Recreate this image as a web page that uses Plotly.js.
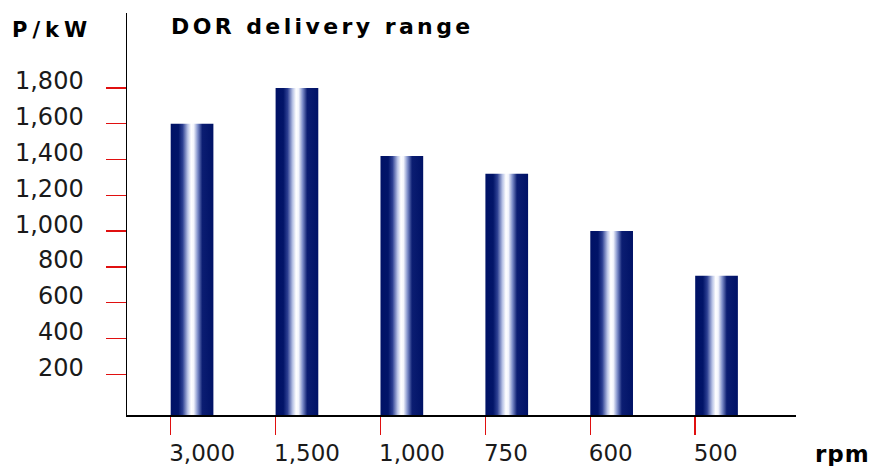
<!DOCTYPE html>
<html>
<head>
<meta charset="utf-8">
<script src="https://cdn.plot.ly/plotly-3.0.1.min.js"></script>
<style>
  html, body { margin: 0; padding: 0; background: #fff; }
  #chart { width: 872px; height: 466px; }
</style>
</head>
<body>
<div id="chart"></div>
<script>
// ---- data ----
const speeds = ["3,000", "1,500", "1,000", "750", "600", "500"];   // rpm categories
const powerKW = [1600, 1800, 1420, 1320, 1000, 750];                // P/kW upper limit
const yTickVals = [200, 400, 600, 800, 1000, 1200, 1400, 1600, 1800];
const chartTitle = "DOR delivery range";
const yUnit = "P/kW";
const xUnit = "rpm";

// ---- styling ----
const barWidth = 0.407;              // in category units, bar starts at tick
const yMin = -27.4, yMax = 2218.6;   // y axis range
const xMin = -0.4166, xMax = 5.961;  // x axis range
const barScale = [
  [0.00, "#001266"], [0.18, "#011468"], [0.28, "#2c3f92"],
  [0.40, "#b9c3e6"], [0.48, "#ffffff"], [0.54, "#f2f4fc"],
  [0.63, "#8292cc"], [0.74, "#0b1d72"], [1.00, "#001266"]
];

const idx = speeds.map((_, i) => i);
const traces = powerKW.map((v, i) => ({
  type: "scatter",
  mode: "lines",
  x: [i, i + barWidth, i + barWidth, i, i],
  y: [yMin, yMin, v, v, yMin],
  fill: "toself",
  fillgradient: { type: "horizontal", colorscale: barScale },
  line: { width: 0, color: "rgba(0,0,0,0)" },
  hoverinfo: "skip",
  showlegend: false
}));

const tickFont = { family: "DejaVu Sans, Verdana, sans-serif", size: 23, color: "#1a1a1a" };
const boldFont = { family: "DejaVu Sans, Verdana, sans-serif", size: 21, color: "#000", weight: "bold" };

const layout = {
  width: 872, height: 466,
  margin: { l: 127, r: 76, t: 13, b: 51 },
  paper_bgcolor: "#fff", plot_bgcolor: "#fff",
  showlegend: false,
  title: {
    text: '<span style="letter-spacing:3.4px">' + chartTitle + '</span>',
    font: { family: "DejaVu Sans, Verdana, sans-serif", size: 22, color: "#000", weight: "bold" },
    xref: "container", yref: "container",
    x: 171 / 872, xanchor: "left",
    y: 1 - 26.5 / 466, yanchor: "middle"
  },
  xaxis: {
    type: "linear",
    range: [xMin, xMax],
    tickmode: "array", tickvals: idx, ticktext: speeds,
    ticks: "outside", ticklen: 18, tickwidth: 1.5, tickcolor: "#e01010",
    ticklabelposition: "outside right",
    ticklabelshift: -3, ticklabelstandoff: 17,
    tickfont: tickFont,
    showline: true, linecolor: "#000", linewidth: 1.5,
    showgrid: false, zeroline: false, fixedrange: true
  },
  yaxis: {
    range: [yMin, yMax],
    tickmode: "array", tickvals: yTickVals,
    tickformat: ",d",
    ticks: "outside", ticklen: 20, tickwidth: 1.5, tickcolor: "#e01010",
    ticklabelshift: -7, ticklabelstandoff: 17,
    tickfont: { family: "DejaVu Sans, Verdana, sans-serif", size: 24, color: "#1a1a1a" },
    showline: true, linecolor: "#000", linewidth: 1.5,
    showgrid: false, zeroline: false, fixedrange: true
  },
  annotations: [
    {
      text: '<span style="letter-spacing:5px">' + yUnit + '</span>',
      xref: "paper", yref: "paper",
      x: -117 / 669, xanchor: "left",
      y: 1 + (30 - 13) / -402, yanchor: "middle",
      showarrow: false, font: boldFont
    },
    {
      text: '<span style="letter-spacing:1px">' + xUnit + '</span>',
      xref: "paper", yref: "paper",
      x: (813 - 127) / 669, xanchor: "left",
      y: -(454 - 415) / 402, yanchor: "middle",
      showarrow: false,
      font: { family: "DejaVu Sans, Verdana, sans-serif", size: 23, color: "#000", weight: "bold" }
    }
  ]
};

Plotly.newPlot("chart", traces, layout, { displayModeBar: false, staticPlot: true });
</script>
</body>
</html>
